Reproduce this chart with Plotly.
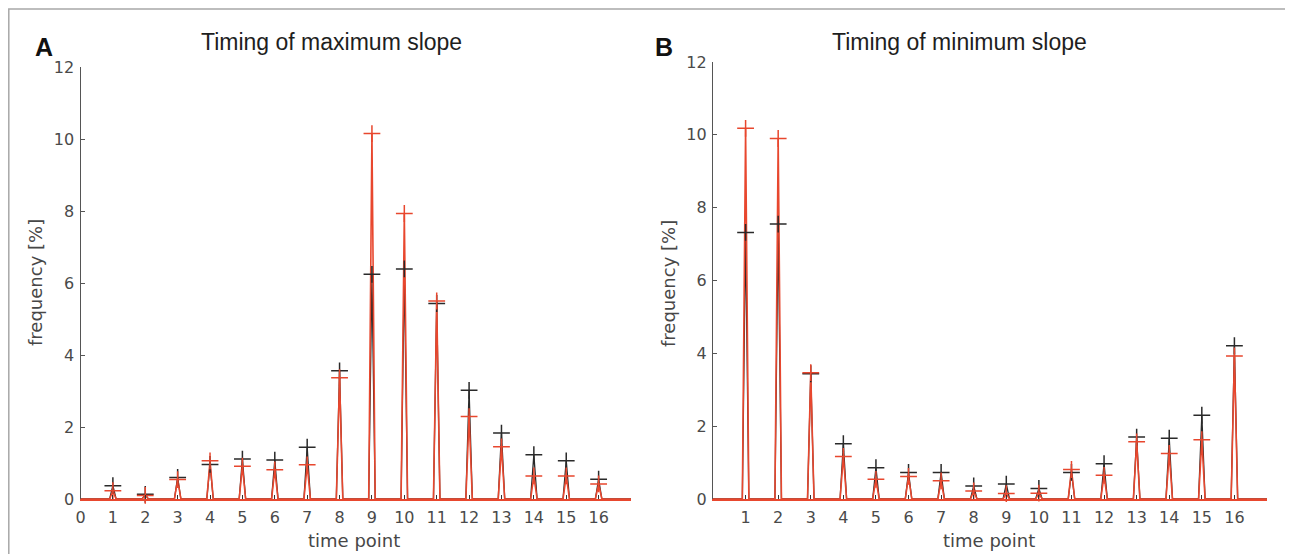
import plotly.graph_objects as go

W, H = 1285, 546   # figure size so that, with the page's 8px body margin, it fills 1293x554
OFF = 8  # page body margin of the browser

time_points = list(range(1, 17))

# Panel A: timing of maximum slope
max_black = [0.37, 0.13, 0.60, 0.96, 1.11, 1.08, 1.44, 3.56, 6.24, 6.39, 5.43, 3.02, 1.83, 1.23, 1.06, 0.55]
max_red = [0.23, 0.10, 0.54, 1.06, 0.91, 0.81, 0.95, 3.37, 10.15, 7.93, 5.50, 2.29, 1.45, 0.64, 0.64, 0.42]

# Panel B: timing of minimum slope
min_black = [7.32, 7.55, 3.44, 1.52, 0.86, 0.73, 0.73, 0.36, 0.41, 0.29, 0.73, 0.97, 1.70, 1.67, 2.30, 4.21]
min_red = [10.18, 9.90, 3.47, 1.17, 0.54, 0.62, 0.50, 0.22, 0.15, 0.16, 0.81, 0.65, 1.57, 1.25, 1.63, 3.93]

y_ticks = [0, 2, 4, 6, 8, 10, 12]
x_ticks_a = list(range(0, 17))
x_ticks_b = list(range(1, 17))

RED = "#e8472e"
BLACK = "#2a2a2a"
AXIS = "#555555"
TICKFONT = dict(family="DejaVu Sans", size=16, color="#4a4a4a")


def spike_path(t, v, half=0.1, xmax=17):
    xs, ys = [0], [0]
    for ti, vi in zip(t, v):
        xs += [ti - half, ti, ti + half]
        ys += [0, vi, 0]
    xs.append(xmax)
    ys.append(0)
    return xs, ys


fig = go.Figure()

panels = [
    (max_black, max_red, "x", "y"),
    (min_black, min_red, "x2", "y2"),
]
for blk, red, xa, ya in panels:
    for vals, col, lw in [(blk, BLACK, 1.3), (red, RED, 1.6)]:
        xs, ys = spike_path(time_points, vals)
        fig.add_trace(go.Scatter(x=xs, y=ys, mode="lines", line=dict(color=col, width=lw),
                                 xaxis=xa, yaxis=ya, showlegend=False, hoverinfo="skip"))
    for vals, col in [(blk, BLACK), (red, RED)]:
        fig.add_trace(go.Scatter(x=time_points, y=vals, mode="markers",
                                 marker=dict(symbol="cross-thin", size=12,
                                             line=dict(color=col, width=1.5)),
                                 xaxis=xa, yaxis=ya, showlegend=False, cliponaxis=False))

def px_x(p):
    return (p - OFF) / W

def px_y(p):
    return (H - (p - OFF)) / H

common_x = dict(range=[0, 17], showline=True, linecolor=RED, linewidth=1.5,
                ticks="inside", ticklen=4, tickcolor="#333333", tickwidth=1.2,
                showgrid=False, zeroline=False, tickfont=TICKFONT, fixedrange=True,
                automargin=False, ticklabelstandoff=3)
common_y = dict(range=[0, 12], showline=True, linecolor=AXIS, linewidth=1.2,
                ticks="inside", ticklen=4, tickcolor=AXIS, tickwidth=1,
                tickvals=y_ticks, showgrid=False, zeroline=False, tickfont=TICKFONT,
                fixedrange=True, automargin=False, ticklabelstandoff=2)

fig.update_layout(
    width=W, height=H,
    margin=dict(l=0, r=0, t=0, b=0, autoexpand=False),
    paper_bgcolor="white", plot_bgcolor="white",
    xaxis=dict(domain=[px_x(80.5), px_x(631)], anchor="y", tickvals=x_ticks_a, **common_x),
    yaxis=dict(domain=[px_y(499), px_y(67)], anchor="x", **common_y),
    xaxis2=dict(domain=[px_x(713), px_x(1267)], anchor="y2", tickvals=x_ticks_b, **common_x),
    yaxis2=dict(domain=[px_y(499), px_y(62)], anchor="x2", **common_y),
)

# outer frame
fig.add_shape(type="rect", xref="paper", yref="paper",
              x0=px_x(8.8), x1=px_x(1291.5), y0=-0.05, y1=px_y(9),
              line=dict(color="#a8a8a8", width=1.5), layer="below")

title_font = dict(family="Liberation Sans", size=23, color="#1e1e1e")
label_font = dict(family="Liberation Sans", size=25, color="#111111")
axis_title_font = dict(family="DejaVu Sans", size=18, color="#474747")

annots = [
    ("Timing of maximum slope", 331, 42, title_font, 0),
    ("Timing of minimum slope", 959, 42, title_font, 0),
    ("<b>A</b>", 44, 47, label_font, 0),
    ("<b>B</b>", 664, 47, label_font, 0),
    ("time point", 354, 540, axis_title_font, 0),
    ("time point", 989, 540, axis_title_font, 0),
    ("frequency [%]", 35, 283, axis_title_font, -90),
    ("frequency [%]", 668, 283, axis_title_font, -90),
]
for text, x, y, font, ang in annots:
    fig.add_annotation(text=text, xref="paper", yref="paper", x=px_x(x), y=px_y(y),
                       xanchor="center", yanchor="middle", showarrow=False,
                       font=font, textangle=ang)

fig.write_html("out.html")
